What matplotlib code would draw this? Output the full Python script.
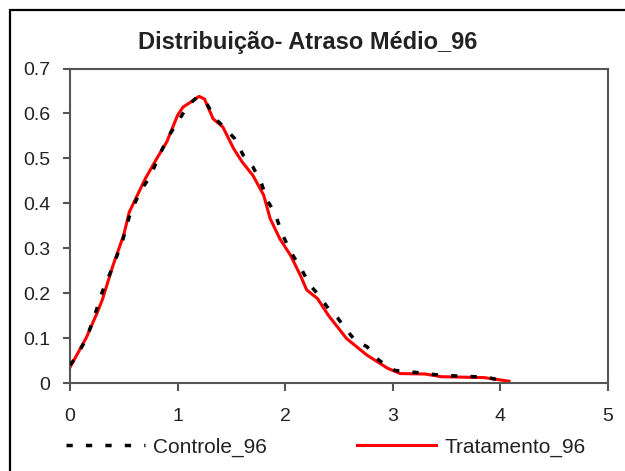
import matplotlib
matplotlib.use("Agg")
import matplotlib.pyplot as plt
from matplotlib.patches import Rectangle

# Controle_96 curve (dashed black)
controle_x = [0.0, 0.05, 0.155, 0.23, 0.30, 0.40, 0.49, 0.56, 0.65, 0.75, 0.83, 0.92,
              1.01, 1.09, 1.18, 1.27, 1.35, 1.43, 1.53, 1.61, 1.70, 1.78, 1.83, 1.90,
              1.97, 2.05, 2.14, 2.23, 2.31, 2.40, 2.49, 2.57, 2.66, 2.76, 2.85, 2.93,
              3.02, 3.28, 3.45, 3.87, 4.0]
controle_y = [0.04, 0.055, 0.10, 0.151, 0.203, 0.26, 0.318, 0.378, 0.425, 0.462, 0.507,
              0.551, 0.584, 0.616, 0.636, 0.622, 0.588, 0.570, 0.544, 0.507, 0.481,
              0.444, 0.407, 0.381, 0.333, 0.292, 0.258, 0.218, 0.196, 0.166, 0.144,
              0.118, 0.092, 0.081, 0.055, 0.040, 0.028, 0.022, 0.017, 0.013, 0.006]

# Tratamento_96 curve (solid red)
tratamento_x = [0.0, 0.15, 0.25, 0.30, 0.40, 0.50, 0.55, 0.60, 0.70, 0.80, 0.90, 1.0,
                1.05, 1.12, 1.20, 1.25, 1.33, 1.42, 1.52, 1.60, 1.70, 1.80, 1.86,
                1.95, 2.05, 2.14, 2.20, 2.30, 2.40, 2.57, 2.76, 2.95, 3.07, 3.30,
                3.45, 3.85, 4.08]
tratamento_y = [0.035, 0.10, 0.155, 0.185, 0.262, 0.33, 0.38, 0.405, 0.455, 0.497,
                0.537, 0.596, 0.614, 0.625, 0.638, 0.632, 0.588, 0.570, 0.522, 0.492,
                0.462, 0.418, 0.366, 0.321, 0.284, 0.240, 0.207, 0.188, 0.151, 0.099,
                0.062, 0.033, 0.021, 0.020, 0.014, 0.012, 0.004]

xticks = [0, 1, 2, 3, 4, 5]
yticks = [0, 0.1, 0.2, 0.3, 0.4, 0.5, 0.6, 0.7]
ytick_labels = ["0", "0.1", "0.2", "0.3", "0.4", "0.5", "0.6", "0.7"]

plt.rcParams["font.family"] = ["Liberation Sans", "DejaVu Sans"]

W, H = 625, 471
fig = plt.figure(figsize=(W / 100, H / 100), dpi=100)
fig.patch.set_facecolor("white")

# outer chart frame (only left and top edges fall inside the image)
fig.patches.append(Rectangle((9.5 / W, -0.05), 1.1, 1 - 9.5 / H + 0.05,
                             transform=fig.transFigure, fill=False,
                             edgecolor="black", linewidth=1.6))

ax = fig.add_axes([70 / W, (H - 383) / H, (608 - 70) / W, (383 - 68.5) / H])

ax.plot(tratamento_x, tratamento_y, color="#ff0000", linewidth=2.2,
        label="Tratamento_96", zorder=2)
ax.plot(controle_x, controle_y, color="black", linewidth=2.5,
        dashes=(1.8, 3.8), label="Controle_96", zorder=3)

ax.set_xlim(0, 5)
ax.set_ylim(0, 0.7)
ax.set_xticks(xticks)
ax.set_yticks(yticks)
ax.set_yticklabels(ytick_labels)

for s in ax.spines.values():
    s.set_color("#555555")
    s.set_linewidth(1.5)
ax.tick_params(axis="both", direction="out", color="#555555", width=1.5,
               labelsize=14, labelcolor="#222222")
ax.tick_params(axis="y", length=5, pad=9)
ax.tick_params(axis="x", length=6, pad=12)

fig.text(308 / W, 1 - 43 / H, "Distribuição- Atraso Médio_96",
         ha="center", va="center", fontsize=17, fontweight="bold", color="#222222")

handles, labels = ax.get_legend_handles_labels()
leg = fig.legend(handles[::-1], labels[::-1], ncol=2, frameon=False,
                 loc="center left", bbox_to_anchor=(66 / W, 1 - 447 / H),
                 fontsize=15, handlelength=3.8, handletextpad=0.4,
                 columnspacing=4.3, borderpad=0, borderaxespad=0)
for t in leg.get_texts():
    t.set_color("#222222")

fig.savefig("out.png", dpi=100)
